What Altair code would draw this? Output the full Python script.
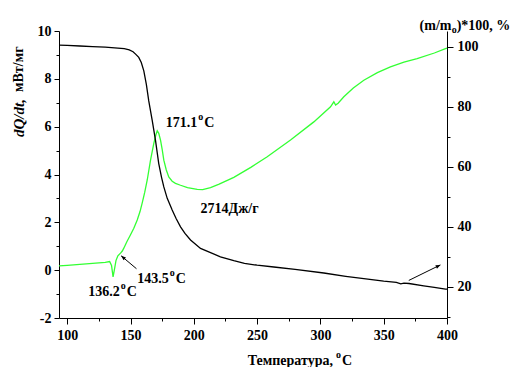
import math
import altair as alt
import pandas as pd

# ---------------- data ----------------
# DSC heat flow (green curve, left axis), T in degC, value in mW/mg
dsc_T = [93.5, 100, 110, 120, 130, 133.5, 135, 136.2, 137.2, 138.5, 140, 142.1,
         143.5, 144.7, 147, 150, 152.6, 155.3, 157.5, 159.2, 161.2, 163.2, 165.8,
         168.4, 170, 171.1, 172.3, 173.7, 175, 176.3, 178.2, 180.2, 182.9, 185.5,
         189.5, 195, 202.7, 207, 213.2, 220, 231.6, 245, 258, 276.4, 294.8, 308,
         310.6, 312, 314, 318.5, 326, 334.3, 345, 355.3, 366, 376.4, 390, 398.8, 400]
dsc_v = [0.18, 0.20, 0.24, 0.28, 0.33, 0.36, 0.20, -0.28, 0.00, 0.40, 0.60, 0.71,
         0.80, 0.92, 1.18, 1.48, 1.75, 2.10, 2.45, 2.80, 3.25, 3.77, 4.60,
         5.30, 5.65, 5.83, 5.72, 5.44, 5.05, 4.60, 4.20, 3.90, 3.72, 3.63,
         3.55, 3.45, 3.38, 3.37, 3.45, 3.60, 3.88, 4.30, 4.74, 5.44, 6.20, 6.83,
         7.04, 6.90, 6.98, 7.25, 7.62, 7.94, 8.26, 8.50, 8.70, 8.85, 9.08, 9.26, 9.28]

# TG mass (black curve, right axis), percent of initial mass
tg_T = [93.5, 100, 110, 120, 130, 140, 145, 149, 152, 154, 156.5, 158.5, 160.5,
        162.5, 164.4, 167.1, 169.7, 172.3, 174.5, 176.3, 179, 182.9, 186, 189.5,
        193, 197.4, 205.3, 213.2, 221, 231.6, 240, 250, 263.2, 280, 302.7, 320,
        334.3, 350, 360, 363.5, 366, 370, 381.6, 390, 398.8, 400]
tg_v = [100.6, 100.5, 100.3, 100.1, 99.9, 99.6, 99.4, 99.0, 98.4, 97.6, 96.5, 94.8, 92.0,
        87.5, 82.0, 75.6, 68.9, 61.1, 56.5, 53.3, 49.5, 45.6, 42.8, 40.0,
        37.8, 35.6, 32.8, 31.4, 30.0, 28.7, 27.8, 27.2, 26.6, 25.8, 24.6, 23.5,
        22.7, 21.9, 21.5, 21.0, 21.2, 21.1, 20.3, 19.8, 19.2, 19.2]

# peak annotations (number, degree mark, C)
peak_labels = ["171.1", "136.2", "143.5"]
peak_label_T = [202.7, 141.5, 180.2]
peak_label_v = [6.15, -0.93, -0.37]

enthalpy_label = ["2714Дж/г"]
enthalpy_T = [205.3]
enthalpy_v = [2.55]

# arrows: tail -> head
arrow_T = [154.7, 369.8]
arrow_v = [0.06, -0.43]
arrow_T2 = [142.6, 394.8]
arrow_v2 = [0.60, 0.22]

x_ticks = list(range(100, 401, 25))
left_ticks = list(range(-2, 11))
right_ticks = list(range(10, 101, 10))

# ---------------- layout / style ----------------
W, H = 388, 287
X_DOM = [93.5, 400]
YL_DOM = [-2, 10]
YR_DOM = [9.6, 105.3]
FONT = "Liberation Serif"
GREEN = "#33ff33"

sx = W / (X_DOM[1] - X_DOM[0])
sy = H / (YL_DOM[1] - YL_DOM[0])
head_angle = [
    math.degrees(math.atan2((t2 - t1) * sx, (v2 - v1) * sy)) % 360
    for t1, v1, t2, v2 in zip(arrow_T, arrow_v, arrow_T2, arrow_v2)
]

dsc_df = pd.DataFrame({"T": dsc_T, "v": dsc_v})
tg_df = pd.DataFrame({"T": tg_T, "m": tg_v})
peak_df = pd.DataFrame({"T": peak_label_T, "v": peak_label_v, "txt": peak_labels})
enth_df = pd.DataFrame({"T": enthalpy_T, "v": enthalpy_v, "txt": enthalpy_label})
arrow_df = pd.DataFrame({"T": arrow_T, "v": arrow_v, "T2": arrow_T2, "v2": arrow_v2,
                         "ang": head_angle})

axis_common = dict(
    title=None, grid=False, labelFont=FONT, labelFontWeight="bold", labelFontSize=14,
    labelColor="black", domainColor="black", tickColor="black", domainWidth=1,
    tickWidth=1, labelFlush=False, labelOverlap=False,
)

x_axis = alt.Axis(
    values=x_ticks, labelExpr="datum.value % 50 == 0 ? datum.label : ''",
    tickSize={"condition": {"test": "datum.value % 50 == 0", "value": 6}, "value": 3},
    labelPadding=4, **axis_common)
yl_axis = alt.Axis(
    values=left_ticks,
    labelExpr="datum.value % 2 == 0 ? replace(datum.label, '\u2212', '-') : ''",
    tickSize={"condition": {"test": "datum.value % 2 == 0", "value": 5}, "value": 3},
    labelPadding=3, **axis_common)
yr_axis = alt.Axis(
    orient="right", values=right_ticks, labelExpr="datum.value % 20 == 0 ? datum.label : ''",
    tickSize={"condition": {"test": "datum.value % 20 == 0", "value": 6}, "value": 3},
    labelPadding=4, **axis_common)

xs = alt.Scale(domain=X_DOM, nice=False, zero=False)
yls = alt.Scale(domain=YL_DOM, nice=False, zero=False)
yrs = alt.Scale(domain=YR_DOM, nice=False, zero=False)

X = lambda f="T": alt.X(f"{f}:Q", scale=xs, axis=x_axis)
YL = lambda f="v": alt.Y(f"{f}:Q", scale=yls, axis=yl_axis)

txt_style = dict(font=FONT, fontWeight="bold", fontSize=14, color="black")

green_line = alt.Chart(dsc_df).mark_line(color=GREEN, strokeWidth=1.3).encode(
    x=X(), y=YL(), order="T:Q")

peak_num = alt.Chart(peak_df).mark_text(align="right", **txt_style).encode(
    x=X(), y=YL(), text="txt:N")
peak_deg = alt.Chart(peak_df).mark_text(
    align="left", dx=1, dy=-6, font=FONT, fontWeight="bold", fontSize=10, color="black",
    text="o").encode(x=X(), y=YL())
peak_c = alt.Chart(peak_df).mark_text(align="left", dx=7, text="C", **txt_style).encode(
    x=X(), y=YL())
enth = alt.Chart(enth_df).mark_text(align="left", **txt_style).encode(
    x=X(), y=YL(), text="txt:N")

arrow_line = alt.Chart(arrow_df).mark_rule(color="black", strokeWidth=1).encode(
    x=X(), y=YL(), x2="T2:Q", y2="v2:Q")
arrow_head = alt.Chart(arrow_df).mark_point(
    shape="M0,0L-0.4,1L0.4,1Z", filled=True, color="black", opacity=1, size=90).encode(
    x=X("T2"), y=YL("v2"), angle=alt.Angle("ang:Q", scale=None))

# axis titles as text (rich formatting: italic, super/subscripts)
one = pd.DataFrame({"k": [0]})
def label(text, x, y, align="left", size=14, style="normal", angle=0):
    kw = dict(align=align, text=text, font=FONT, fontWeight="bold", fontSize=size,
              fontStyle=style, color="black")
    if angle:
        kw["angle"] = angle
        kw["baseline"] = "middle"
    return alt.Chart(one).mark_text(**kw).encode(x=alt.value(x), y=alt.value(y))

titles = [
    label("dQ/dt,", -40.5, 106, size=15, style="italic", angle=270),
    label("мВт/мг", -40.5, 61, angle=270),
    label("Температура,", 274, 330, align="right"),
    label("o", 277, 324, size=10),
    label("C", 283, 330),
    label("(m/m", 392.5, -5, align="right"),
    label("o", 392.7, -1, size=10),
    label(")*100, %", 397.7, -5),
]

left_group = alt.layer(green_line, arrow_line, arrow_head, peak_num, peak_deg, peak_c,
                       enth, *titles)

black_line = alt.Chart(tg_df).mark_line(color="black", strokeWidth=1.3).encode(
    x=X(), y=alt.Y("m:Q", scale=yrs, axis=yr_axis), order="T:Q")

chart = alt.layer(left_group, black_line).resolve_scale(y="independent").properties(
    width=W, height=H,
    padding={"left": 51, "top": 23, "right": 63, "bottom": 50},
    autosize=alt.AutoSizeParams(type="none"),
    background="white",
).configure_view(stroke=None)

chart.save("out.html", embed_options={"renderer": "svg", "actions": False})
